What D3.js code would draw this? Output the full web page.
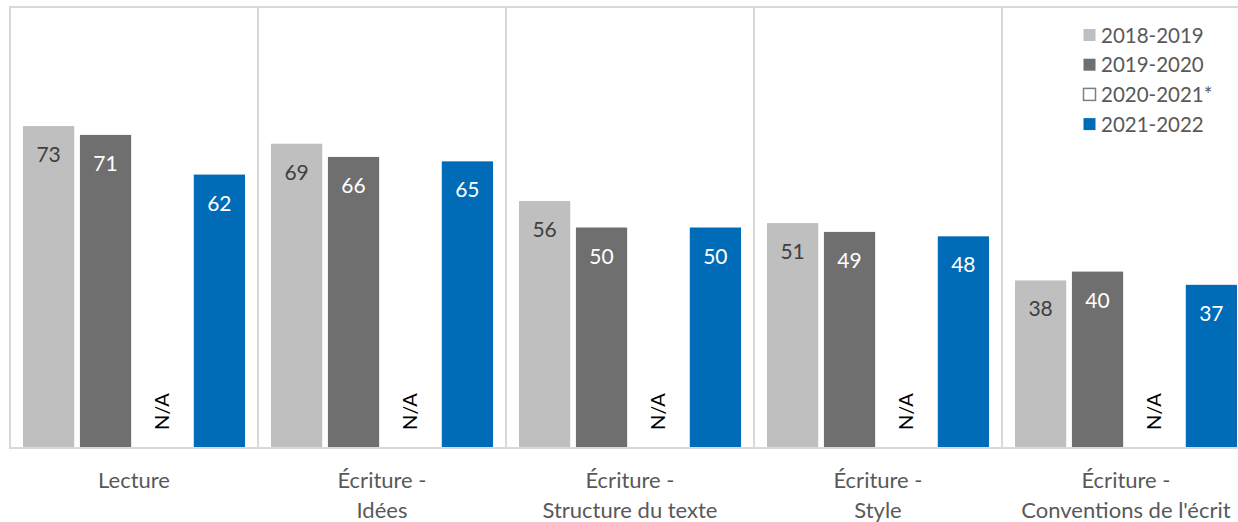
<!DOCTYPE html>
<html><head><meta charset="utf-8">
<script src="https://cdn.jsdelivr.net/npm/d3@7"></script>
<style>body{margin:0;background:#fff}svg{display:block;font-family:Lato,"Open Sans",sans-serif}</style>
</head><body>
<svg id="c" width="1238" height="522"></svg>
<script>
const categories = [["Lecture"],["Écriture -","Idées"],["Écriture -","Structure du texte"],["Écriture -","Style"],["Écriture -","Conventions de l'écrit"]];
const series = ["2018-2019","2019-2020","2020-2021*","2021-2022"];
const v2018 = [73,69,56,51,38];
const v2019 = [71,66,50,49,40];
const v2020 = [null,null,null,null,null];
const v2021 = [62,65,50,48,37];
const values = [v2018,v2019,v2020,v2021];
const colors = ["#bfbfbf","#6f6f6f","#ffffff","#006cb8"];
const labelColors = ["#404040","#ffffff","#000000","#ffffff"];
const yTicks = [0,100];

const svg = d3.select("#c");
const x = d3.scaleBand().domain(d3.range(categories.length)).range([10,1250]).padding(0);
const xi = d3.scaleBand().domain(d3.range(series.length)).range([13, x.bandwidth()-13]).paddingInner(0.1).paddingOuter(0);
const y = d3.scaleLinear().domain(d3.extent(yTicks)).range([448,7]);

const g = svg.append("g");
g.append("rect").attr("x",x(0)).attr("y",y(100)).attr("width",x.range()[1]-x(0)).attr("height",y(0)-y(100))
 .attr("fill","none").attr("stroke","#d9d9d9").attr("stroke-width",2);
categories.forEach((c,i)=>{ if(i>0) g.append("line").attr("x1",x(i)).attr("x2",x(i)).attr("y1",y(100)).attr("y2",y(0)).attr("stroke","#d9d9d9").attr("stroke-width",2); });

categories.forEach((c,ci)=>{
  const cg = svg.append("g").attr("transform",`translate(${x(ci)},0)`);
  series.forEach((s,si)=>{
    const v = values[si][ci];
    const bx = xi(si);
    if(v==null){
      cg.append("text").attr("transform",`translate(${bx+xi.bandwidth()/2+7},${y(0)-18}) rotate(-90)`)
        .attr("font-size",20).attr("fill",labelColors[si]).text("N/A");
      return;
    }
    cg.append("rect").attr("x",bx).attr("y",y(v)).attr("width",xi.bandwidth()).attr("height",y(0)-y(v)).attr("fill",colors[si]);
    cg.append("text").attr("x",bx+xi.bandwidth()/2).attr("y",y(v)+36).attr("text-anchor","middle")
      .attr("font-size",21).attr("fill",labelColors[si]).text(v);
  });
  c.forEach((line,li)=>{
    cg.append("text").attr("x",x.bandwidth()/2).attr("y",488+li*30).attr("text-anchor","middle")
      .attr("font-size",22).attr("fill","#595959").text(line);
  });
});
svg.append("line").attr("x1",x(0)).attr("x2",1250).attr("y1",y(0)).attr("y2",y(0)).attr("stroke","#d9d9d9").attr("stroke-width",2);

const lg = svg.append("g").attr("transform","translate(1083,35)");
series.forEach((s,i)=>{
  const r = lg.append("g").attr("transform",`translate(0,${i*29.7})`);
  r.append("rect").attr("x",0.5).attr("y",-6).attr("width",12).attr("height",12)
   .attr("fill",colors[i]).attr("stroke",i==2?"#7f7f7f":"none").attr("stroke-width",i==2?1.5:0);
  r.append("text").attr("x",18).attr("y",7.5).attr("font-size",20.5).attr("fill","#595959").text(s);
});
</script>
</body></html>
